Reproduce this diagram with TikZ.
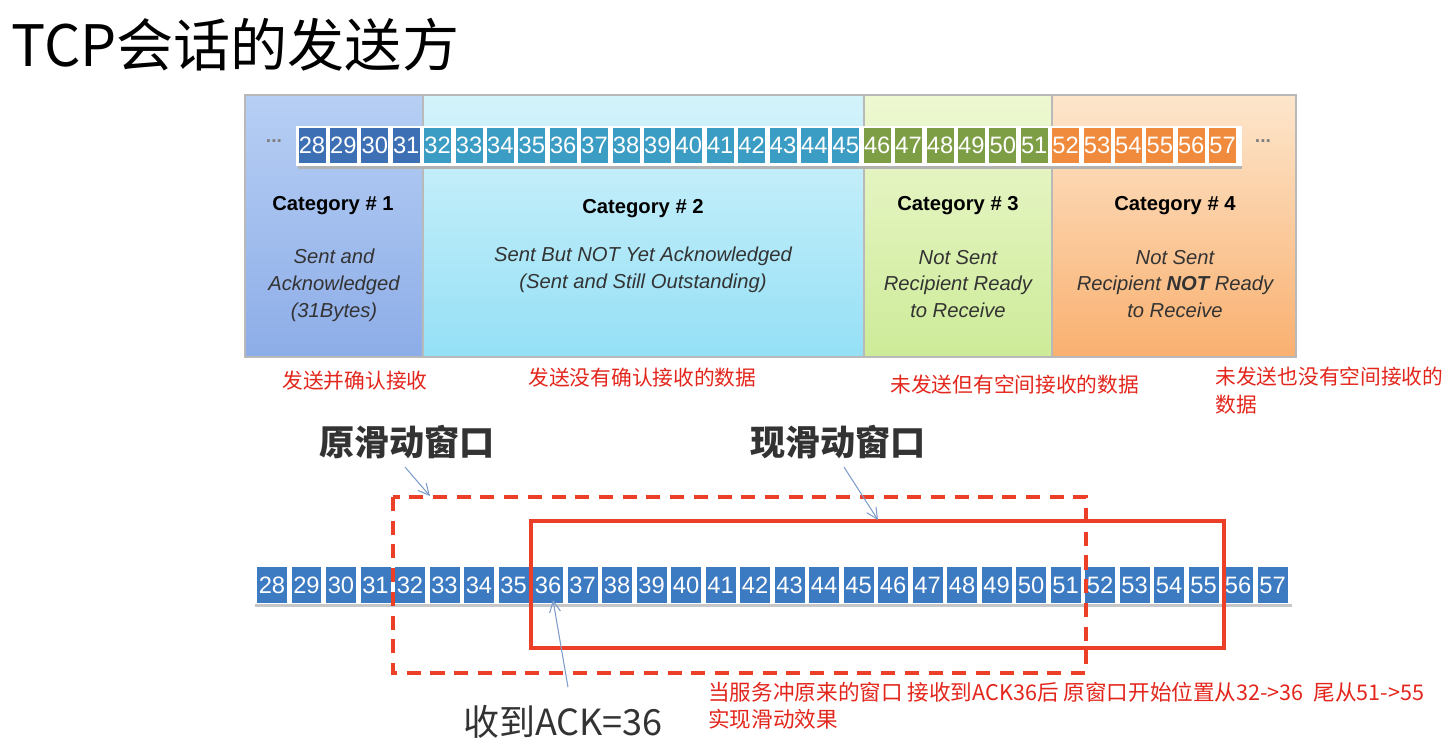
\documentclass[tikz,border=0pt]{standalone}
\usepackage{fontspec}
\setmainfont{Liberation Sans}
\newfontfamily\cjk{Noto Sans CJK SC}
\usepackage{graphicx}
\usetikzlibrary{arrows.meta, positioning, calc}

\definecolor{catAtop}{HTML}{B7CFF4}
\definecolor{catAbot}{HTML}{8DADE8}
\definecolor{catBtop}{HTML}{D4F3FB}
\definecolor{catBbot}{HTML}{95E0F6}
\definecolor{catCtop}{HTML}{EEF8D2}
\definecolor{catCbot}{HTML}{CDEB98}
\definecolor{catDtop}{HTML}{FDE6CC}
\definecolor{catDbot}{HTML}{F9B070}
\definecolor{cellA}{HTML}{3D6FB4}
\definecolor{cellB}{HTML}{3B9CC4}
\definecolor{cellC}{HTML}{7D9E45}
\definecolor{cellD}{HTML}{F08B3E}
\definecolor{cellE}{HTML}{3C7AC2}
\definecolor{notered}{HTML}{E3261C}
\definecolor{winred}{HTML}{EC3F28}
\definecolor{pointblue}{HTML}{7E9CCB}

\begin{document}
\begin{tikzpicture}[x=0.02cm, y=-0.02cm,
    catbox/.style={draw=gray!55, line width=0.6pt},
    topcell/.style={minimum width=0.56cm, minimum height=0.72cm, inner sep=0pt,
      draw=white, line width=0.5pt, text=white,
      font=\fontsize{13.5}{13.5}\selectfont},
    botcell/.style={minimum width=0.6cm, minimum height=0.72cm, inner sep=0pt,
      fill=cellE, text=white, font=\fontsize{13.5}{13.5}\selectfont},
    cattitle/.style={font=\bfseries\fontsize{11.5}{13}\selectfont},
    catdesc/.style={align=center, text=black!80, font=\itshape\fontsize{11.5}{15.3}\selectfont},
    rednote/.style={text=notered, align=left, inner sep=0pt, font=\cjk\fontsize{11.8}{15.5}\selectfont},
    winlabel/.style={text=black!80, font=\cjk\bfseries\fontsize{20}{22}\selectfont},
    pointer/.style={draw=pointblue, line width=0.6pt, -{Straight Barb[length=2.2mm, width=2.2mm]}},
    oldwin/.style={draw=winred, line width=1.8pt, dash pattern=on 8pt off 5.5pt},
    newwin/.style={draw=winred, line width=1.8pt},
    dots/.style={text=gray, font=\bfseries\fontsize{11}{11}\selectfont}]
\useasboundingbox (0,0) rectangle (1455,744);

% title
\node[anchor=west, inner sep=0pt, font=\cjk\fontsize{32.5}{35}\selectfont] (title) at (11,45) {TCP会话的发送方};

% the four categories
\shade[catbox, top color=catAtop, bottom color=catAbot] (245,95) rectangle (423,357);
\shade[catbox, top color=catBtop, bottom color=catBbot] (423,95) rectangle (864,357);
\shade[catbox, top color=catCtop, bottom color=catCbot] (864,95) rectangle (1052,357);
\shade[catbox, top color=catDtop, bottom color=catDbot] (1052,95) rectangle (1296,357);

% byte strip
\fill[black!30] (298,166) rectangle (1242,169);
\fill[white] (296,126) rectangle (1242,166);
\node[dots] (ldots) at (274,141) {...};
\node[dots] (rdots) at (1263,141) {...};
\foreach \n in {28,...,31}
  \node[topcell, fill=cellA] (t\n) at ({312+(\n-28)*31.4},145) {\n};
\foreach \n in {32,...,45}
  \node[topcell, fill=cellB] (t\n) at ({312+(\n-28)*31.4},145) {\n};
\foreach \n in {46,...,51}
  \node[topcell, fill=cellC] (t\n) at ({312+(\n-28)*31.4},145) {\n};
\foreach \n in {52,...,57}
  \node[topcell, fill=cellD] (t\n) at ({312+(\n-28)*31.4},145) {\n};

% category texts
\node[cattitle] (c1) at (333,206) {Category \# 1};
\node[cattitle] (c2) at (643,209) {Category \# 2};
\node[cattitle] (c3) at (958,206) {Category \# 3};
\node[cattitle] (c4) at (1175,206) {Category \# 4};
\node[catdesc] (d1) at (334,285) {Sent and\\Acknowledged\\(31Bytes)};
\node[catdesc] (d2) at (643,270) {Sent But NOT Yet Acknowledged\\(Sent and Still Outstanding)};
\node[catdesc] (d3) at (958,284) {Not Sent\\Recipient Ready\\to Receive};
\node[catdesc] (d4) at (1175,284) {Not Sent\\Recipient \textbf{NOT} Ready\\to Receive};

% chinese notes
\node[rednote, anchor=west] (n1) at (282,381) {发送并确认接收};
\node[rednote, anchor=west] (n2) at (528,378) {发送没有确认接收的数据};
\node[rednote, anchor=west] (n3) at (890,385) {未发送但有空间接收的数据};
\node[rednote, anchor=north west] (n4) at (1215,367) {未发送也没有空间接收的\\数据};

% sliding window
\fill[black!22] (255,604) rectangle (1292,607);
\foreach \n in {28,...,57}
  \node[botcell] (b\n) at ({272+(\n-28)*34.5},585) {\n};

\draw[oldwin] (393,497) rectangle (1086,673);
\draw[newwin] (531,521) rectangle (1224,648);

\node[winlabel] (old) at (407,442) {原滑动窗口};
\node[winlabel] (new) at (838,442) {现滑动窗口};
\node[winlabel, font=\cjk\fontsize{20.5}{22}\selectfont] (ack) at (563,722) {收到ACK=36};
\coordinate (oldtip) at (430,496);
\coordinate (newtip) at (878,520);
\coordinate (acktip) at (553,600);
\draw[pointer] ($(old.south)+(-2,2)$) -- (oldtip);
\draw[pointer] ($(new.south)+(6,2)$) -- (newtip);
\draw[pointer] ($(ack.north)+(5,-12)$) -- (acktip);

\node[rednote, anchor=north west, font=\cjk\fontsize{12.3}{15}\selectfont] (n5) at (708,682) {当服务冲原来的窗口 接收到ACK36后 原窗口开始位置从32->36\ \ 尾从51->55\\实现滑动效果};
\end{tikzpicture}
\end{document}
